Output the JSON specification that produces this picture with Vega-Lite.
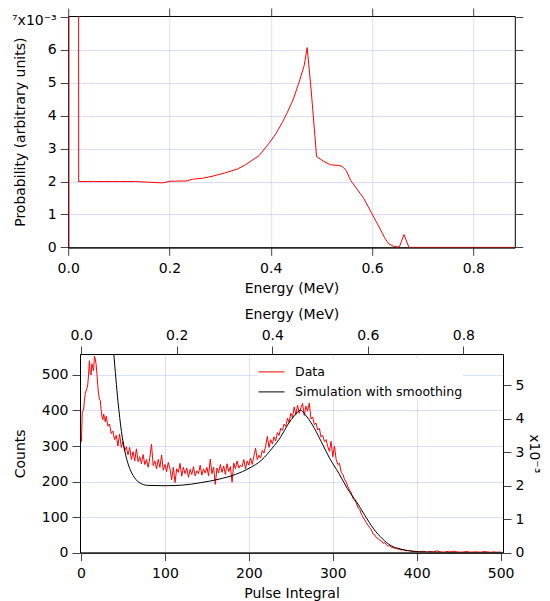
{
  "$schema": "https://vega.github.io/schema/vega-lite/v6.json",
  "background": "white",
  "padding": {"left": 10, "top": 7, "right": 0, "bottom": 0},
  "bounds": "flush",
  "center": true,
  "spacing": 106,
  "config": {
    "view": {"stroke": "#000", "strokeWidth": 1},
    "axis": {
      "labelFont": "DejaVu Sans", "titleFont": "DejaVu Sans",
      "labelFontSize": 14, "titleFontSize": 14, "titleFontWeight": "normal",
      "labelColor": "#000", "titleColor": "#000",
      "tickSize": 8, "tickColor": "#444", "domainColor": "#000",
      "gridColor": "#2222ff", "gridDash": [1, 1], "gridOpacity": 0.55,
      "labelPadding": 4, "labelFlush": false
    },
    "legend": {
      "orient": "none", "legendX": 190, "legendY": 342.4,
      "symbolType": "stroke", "symbolSize": 676, "symbolStrokeWidth": 1,
      "labelFont": "DejaVu Sans", "labelFontSize": 12.5, "labelColor": "#000",
      "labelOffset": 10, "labelLimit": 0, "padding": 0, "rowPadding": -8,
      "fillColor": "white", "title": null
    }
  },
  "datasets": {
    "top": [
      {"E": 0, "P": 0}, {"E": 0.0005, "P": 20}, {"E": 0.0203, "P": 20}, {"E": 0.0207, "P": 2.0},
      {"E": 0.05, "P": 2.0}, {"E": 0.1, "P": 2.0}, {"E": 0.133, "P": 2.0}, {"E": 0.16, "P": 1.98},
      {"E": 0.186, "P": 1.96}, {"E": 0.202, "P": 2.01}, {"E": 0.235, "P": 2.02}, {"E": 0.245, "P": 2.07},
      {"E": 0.265, "P": 2.10}, {"E": 0.284, "P": 2.16}, {"E": 0.311, "P": 2.27}, {"E": 0.334, "P": 2.38},
      {"E": 0.350, "P": 2.51}, {"E": 0.377, "P": 2.79}, {"E": 0.396, "P": 3.15}, {"E": 0.410, "P": 3.45},
      {"E": 0.423, "P": 3.80}, {"E": 0.433, "P": 4.11}, {"E": 0.444, "P": 4.48}, {"E": 0.456, "P": 5.02},
      {"E": 0.466, "P": 5.52}, {"E": 0.472, "P": 6.07}, {"E": 0.480, "P": 4.75}, {"E": 0.4905, "P": 2.76},
      {"E": 0.505, "P": 2.61}, {"E": 0.518, "P": 2.51}, {"E": 0.535, "P": 2.49}, {"E": 0.541, "P": 2.46},
      {"E": 0.549, "P": 2.34}, {"E": 0.558, "P": 2.03}, {"E": 0.571, "P": 1.76}, {"E": 0.584, "P": 1.48},
      {"E": 0.600, "P": 1.02}, {"E": 0.614, "P": 0.62}, {"E": 0.625, "P": 0.29}, {"E": 0.633, "P": 0.11},
      {"E": 0.643, "P": 0.03}, {"E": 0.654, "P": 0.01}, {"E": 0.663, "P": 0.39}, {"E": 0.673, "P": 0.0},
      {"E": 0.880, "P": 0.0}
    ],
    "counts": [
      {"PI": 0.5, "C": 312}, {"PI": 1.5, "C": 398}, {"PI": 3, "C": 400}, {"PI": 4, "C": 425}, {"PI": 5, "C": 448},
      {"PI": 6, "C": 455}, {"PI": 7, "C": 462}, {"PI": 8, "C": 472}, {"PI": 9, "C": 500}, {"PI": 10, "C": 540},
      {"PI": 11, "C": 505}, {"PI": 12, "C": 500}, {"PI": 13, "C": 532}, {"PI": 14, "C": 520}, {"PI": 15, "C": 512},
      {"PI": 16, "C": 553}, {"PI": 17, "C": 545}, {"PI": 18, "C": 530}, {"PI": 19, "C": 502}, {"PI": 20, "C": 470},
      {"PI": 21, "C": 445}, {"PI": 22, "C": 432}, {"PI": 23, "C": 428}, {"PI": 24, "C": 402}, {"PI": 25, "C": 382},
      {"PI": 26, "C": 374}, {"PI": 27, "C": 390}, {"PI": 28, "C": 378}, {"PI": 29, "C": 368}, {"PI": 30, "C": 384},
      {"PI": 32, "C": 356}, {"PI": 34, "C": 362}, {"PI": 36, "C": 335}, {"PI": 38, "C": 342}, {"PI": 40, "C": 318},
      {"PI": 42, "C": 330}, {"PI": 44, "C": 300}, {"PI": 46, "C": 334}, {"PI": 48, "C": 296}, {"PI": 50, "C": 312},
      {"PI": 52, "C": 286}, {"PI": 54, "C": 298}, {"PI": 56, "C": 275}, {"PI": 58, "C": 296}, {"PI": 60, "C": 262},
      {"PI": 62, "C": 284}, {"PI": 64, "C": 258}, {"PI": 66, "C": 292}, {"PI": 68, "C": 256}, {"PI": 70, "C": 270},
      {"PI": 72, "C": 250}, {"PI": 74, "C": 276}, {"PI": 76, "C": 248}, {"PI": 78, "C": 262}, {"PI": 80, "C": 240},
      {"PI": 82, "C": 268}, {"PI": 84, "C": 305}, {"PI": 86, "C": 245}, {"PI": 88, "C": 258}, {"PI": 90, "C": 236},
      {"PI": 92, "C": 262}, {"PI": 94, "C": 240}, {"PI": 96, "C": 275}, {"PI": 98, "C": 232}, {"PI": 100, "C": 248},
      {"PI": 102, "C": 228}, {"PI": 104, "C": 254}, {"PI": 106, "C": 236}, {"PI": 108, "C": 205}, {"PI": 110, "C": 240},
      {"PI": 112, "C": 197}, {"PI": 114, "C": 236}, {"PI": 116, "C": 226}, {"PI": 118, "C": 251}, {"PI": 120, "C": 215},
      {"PI": 122, "C": 240}, {"PI": 124, "C": 222}, {"PI": 126, "C": 238}, {"PI": 128, "C": 212}, {"PI": 130, "C": 234},
      {"PI": 132, "C": 220}, {"PI": 134, "C": 242}, {"PI": 136, "C": 216}, {"PI": 138, "C": 230}, {"PI": 140, "C": 222},
      {"PI": 142, "C": 246}, {"PI": 144, "C": 218}, {"PI": 146, "C": 236}, {"PI": 148, "C": 224}, {"PI": 150, "C": 240},
      {"PI": 152, "C": 216}, {"PI": 154, "C": 263}, {"PI": 156, "C": 222}, {"PI": 158, "C": 240}, {"PI": 160, "C": 192},
      {"PI": 162, "C": 238}, {"PI": 164, "C": 224}, {"PI": 166, "C": 248}, {"PI": 168, "C": 226}, {"PI": 170, "C": 244},
      {"PI": 172, "C": 220}, {"PI": 174, "C": 250}, {"PI": 176, "C": 228}, {"PI": 178, "C": 242}, {"PI": 180, "C": 198},
      {"PI": 182, "C": 252}, {"PI": 184, "C": 236}, {"PI": 186, "C": 258}, {"PI": 188, "C": 238}, {"PI": 190, "C": 246},
      {"PI": 192, "C": 242}, {"PI": 194, "C": 262}, {"PI": 196, "C": 236}, {"PI": 198, "C": 258}, {"PI": 200, "C": 246},
      {"PI": 202, "C": 266}, {"PI": 204, "C": 248}, {"PI": 206, "C": 272}, {"PI": 208, "C": 294}, {"PI": 210, "C": 262},
      {"PI": 212, "C": 274}, {"PI": 214, "C": 266}, {"PI": 216, "C": 288}, {"PI": 218, "C": 280}, {"PI": 220, "C": 300},
      {"PI": 222, "C": 327}, {"PI": 224, "C": 296}, {"PI": 226, "C": 318}, {"PI": 228, "C": 306}, {"PI": 230, "C": 326},
      {"PI": 232, "C": 314}, {"PI": 234, "C": 338}, {"PI": 236, "C": 330}, {"PI": 238, "C": 350}, {"PI": 240, "C": 344},
      {"PI": 242, "C": 362}, {"PI": 244, "C": 355}, {"PI": 246, "C": 378}, {"PI": 248, "C": 366}, {"PI": 250, "C": 392},
      {"PI": 252, "C": 380}, {"PI": 254, "C": 410}, {"PI": 256, "C": 388}, {"PI": 258, "C": 415}, {"PI": 260, "C": 392},
      {"PI": 262, "C": 408}, {"PI": 264, "C": 420}, {"PI": 266, "C": 386}, {"PI": 268, "C": 412}, {"PI": 270, "C": 398},
      {"PI": 272, "C": 421}, {"PI": 274, "C": 376}, {"PI": 276, "C": 382}, {"PI": 278, "C": 360}, {"PI": 280, "C": 365},
      {"PI": 282, "C": 345}, {"PI": 284, "C": 350}, {"PI": 286, "C": 325}, {"PI": 288, "C": 330}, {"PI": 290, "C": 312},
      {"PI": 292, "C": 318}, {"PI": 294, "C": 298}, {"PI": 296, "C": 285}, {"PI": 298, "C": 313}, {"PI": 300, "C": 270},
      {"PI": 302, "C": 300}, {"PI": 304, "C": 262}, {"PI": 306, "C": 248}, {"PI": 308, "C": 251}, {"PI": 310, "C": 226},
      {"PI": 312, "C": 220}, {"PI": 314, "C": 206}, {"PI": 316, "C": 198}, {"PI": 318, "C": 185}, {"PI": 320, "C": 176},
      {"PI": 322, "C": 168}, {"PI": 324, "C": 152}, {"PI": 326, "C": 148}, {"PI": 328, "C": 140}, {"PI": 330, "C": 126},
      {"PI": 332, "C": 122}, {"PI": 334, "C": 108}, {"PI": 336, "C": 100}, {"PI": 338, "C": 92}, {"PI": 340, "C": 84},
      {"PI": 342, "C": 77}, {"PI": 344, "C": 70}, {"PI": 346, "C": 64}, {"PI": 348, "C": 52}, {"PI": 350, "C": 50},
      {"PI": 352, "C": 42}, {"PI": 354, "C": 40}, {"PI": 356, "C": 34}, {"PI": 358, "C": 33}, {"PI": 360, "C": 26},
      {"PI": 362, "C": 28}, {"PI": 364, "C": 22}, {"PI": 366, "C": 18}, {"PI": 368, "C": 20}, {"PI": 370, "C": 14},
      {"PI": 372, "C": 15}, {"PI": 374, "C": 11}, {"PI": 376, "C": 12}, {"PI": 378, "C": 9}, {"PI": 380, "C": 10},
      {"PI": 382, "C": 7}, {"PI": 384, "C": 8}, {"PI": 386, "C": 6}, {"PI": 388, "C": 5}, {"PI": 390, "C": 6},
      {"PI": 392, "C": 4}, {"PI": 394, "C": 5}, {"PI": 396, "C": 3}, {"PI": 398, "C": 4}, {"PI": 400, "C": 3},
      {"PI": 404, "C": 2}, {"PI": 408, "C": 4}, {"PI": 412, "C": 1}, {"PI": 416, "C": 3}, {"PI": 420, "C": 2},
      {"PI": 424, "C": 5}, {"PI": 428, "C": 2}, {"PI": 432, "C": 1}, {"PI": 436, "C": 3}, {"PI": 440, "C": 2},
      {"PI": 444, "C": 4}, {"PI": 448, "C": 2}, {"PI": 452, "C": 1}, {"PI": 456, "C": 2}, {"PI": 460, "C": 3},
      {"PI": 464, "C": 1}, {"PI": 468, "C": 2}, {"PI": 472, "C": 2}, {"PI": 476, "C": 1}, {"PI": 480, "C": 3},
      {"PI": 484, "C": 2}, {"PI": 488, "C": 1}, {"PI": 492, "C": 2}, {"PI": 496, "C": 1}, {"PI": 500, "C": 2}
    ],
    "sim": [
      {"E": 0.0615, "P": 7.01}, {"E": 0.0682, "P": 5.94}, {"E": 0.0770, "P": 4.52}, {"E": 0.0843, "P": 3.62},
      {"E": 0.0917, "P": 3.01}, {"E": 0.0989, "P": 2.62}, {"E": 0.1086, "P": 2.31}, {"E": 0.1211, "P": 2.10},
      {"E": 0.1393, "P": 2.01}, {"E": 0.1757, "P": 2.00}, {"E": 0.2126, "P": 2.02}, {"E": 0.2495, "P": 2.09},
      {"E": 0.2864, "P": 2.19}, {"E": 0.3233, "P": 2.34}, {"E": 0.3514, "P": 2.52}, {"E": 0.3778, "P": 2.77},
      {"E": 0.3997, "P": 3.12}, {"E": 0.4182, "P": 3.47}, {"E": 0.4322, "P": 3.82}, {"E": 0.4480, "P": 4.12},
      {"E": 0.4586, "P": 4.26}, {"E": 0.4691, "P": 4.12}, {"E": 0.4840, "P": 3.82}, {"E": 0.5025, "P": 3.32},
      {"E": 0.5201, "P": 2.82}, {"E": 0.5394, "P": 2.37}, {"E": 0.5570, "P": 1.92}, {"E": 0.5763, "P": 1.52},
      {"E": 0.5939, "P": 1.11}, {"E": 0.6123, "P": 0.71}, {"E": 0.6308, "P": 0.41}, {"E": 0.6483, "P": 0.21},
      {"E": 0.6677, "P": 0.11}, {"E": 0.6887, "P": 0.05}, {"E": 0.7116, "P": 0.02}, {"E": 0.7485, "P": 0.01},
      {"E": 0.7836, "P": 0}, {"E": 0.882, "P": 0}
    ]
  },
  "vconcat": [
    {
      "width": 446.6,
      "height": 231.4,
      "data": {"name": "top"},
      "layer": [
        {
          "mark": {"type": "line", "color": "#ff0000", "strokeWidth": 1, "clip": true},
          "encoding": {
            "x": {
              "field": "E", "type": "quantitative",
              "scale": {"domain": [0, 0.882], "nice": false, "zero": false},
              "axis": {
                "orient": "bottom", "title": "Energy (MeV)", "values": [0, 0.2, 0.4, 0.6, 0.8],
                "format": ".1f", "grid": true, "labelPadding": 6, "titlePadding": 6,
                "gridOpacity": {"condition": {"test": "datum.value === 0", "value": 0}, "value": 0.55}
              }
            },
            "y": {
              "field": "P", "type": "quantitative",
              "scale": {"domain": [0, 7.03], "nice": false, "zero": true},
              "axis": {
                "orient": "left", "title": "Probability (arbitrary units)",
                "values": [0, 1, 2, 3, 4, 5, 6, 7], "grid": true,
                "labelExpr": "datum.value === 7 ? '⁷x10⁻³' : datum.label",
                "labelOffset": {"condition": {"test": "datum.value === 7", "value": 4}, "value": 0},
                "gridOpacity": {"condition": {"test": "datum.value === 7 || datum.value === 0", "value": 0}, "value": 0.55},
                "titleX": -41
              }
            }
          }
        },
        {
          "mark": {"type": "line", "strokeOpacity": 0, "clip": true},
          "encoding": {
            "x": {
              "field": "E", "type": "quantitative",
              "axis": {"orient": "top", "labels": false, "title": null, "grid": false, "domain": false,
                       "values": [0, 0.2, 0.4, 0.6, 0.8]}
            },
            "y": {
              "field": "P", "type": "quantitative",
              "axis": {"orient": "right", "labels": false, "title": null, "grid": false, "domain": false,
                       "values": [0, 1, 2, 3, 4, 5, 6, 7]}
            }
          }
        }
      ],
      "resolve": {"axis": {"x": "independent", "y": "independent"}}
    },
    {
      "width": 423,
      "height": 198.6,
      "layer": [
        {
          "data": {"name": "counts"},
          "mark": {"type": "line", "interpolate": "linear", "strokeWidth": 1, "clip": true},
          "encoding": {
            "x": {
              "field": "PI", "type": "quantitative",
              "scale": {"domain": [-1.2, 502.8], "nice": false, "zero": false},
              "axis": {
                "orient": "bottom", "title": "Pulse Integral", "values": [0, 100, 200, 300, 400, 500],
                "grid": true, "labelPadding": 6, "titlePadding": 6,
                "gridOpacity": {"condition": {"test": "datum.value === 0 || datum.value === 500", "value": 0}, "value": 0.55}
              }
            },
            "y": {
              "field": "C", "type": "quantitative",
              "scale": {"domain": [0, 559], "nice": false},
              "axis": {
                "orient": "left", "title": "Counts", "values": [0, 100, 200, 300, 400, 500],
                "grid": true, "titlePadding": 14,
                "gridOpacity": {"condition": {"test": "datum.value === 0", "value": 0}, "value": 0.55}
              }
            },
            "color": {
              "datum": "Data", "type": "nominal",
              "scale": {"domain": ["Data", "Simulation with smoothing"], "range": ["#ff0000", "#000000"]}
            }
          }
        },
        {
          "data": {"name": "sim"},
          "mark": {"type": "line", "interpolate": "monotone", "strokeWidth": 1, "clip": true},
          "encoding": {
            "x": {
              "field": "E", "type": "quantitative",
              "scale": {"domain": [-0.0025, 0.883], "nice": false, "zero": false},
              "axis": {
                "orient": "top", "title": "Energy (MeV)", "values": [0, 0.2, 0.4, 0.6, 0.8],
                "format": ".1f", "grid": false, "domain": false, "titlePadding": 7
              }
            },
            "y": {
              "field": "P", "type": "quantitative",
              "scale": {"domain": [0, 5.94], "nice": false},
              "axis": {
                "orient": "right", "title": "x10⁻³", "values": [0, 1, 2, 3, 4, 5],
                "grid": false, "domain": false, "titlePadding": 3
              }
            },
            "color": {"datum": "Simulation with smoothing", "type": "nominal"}
          }
        }
      ],
      "resolve": {"scale": {"x": "independent", "y": "independent"}}
    }
  ]
}
